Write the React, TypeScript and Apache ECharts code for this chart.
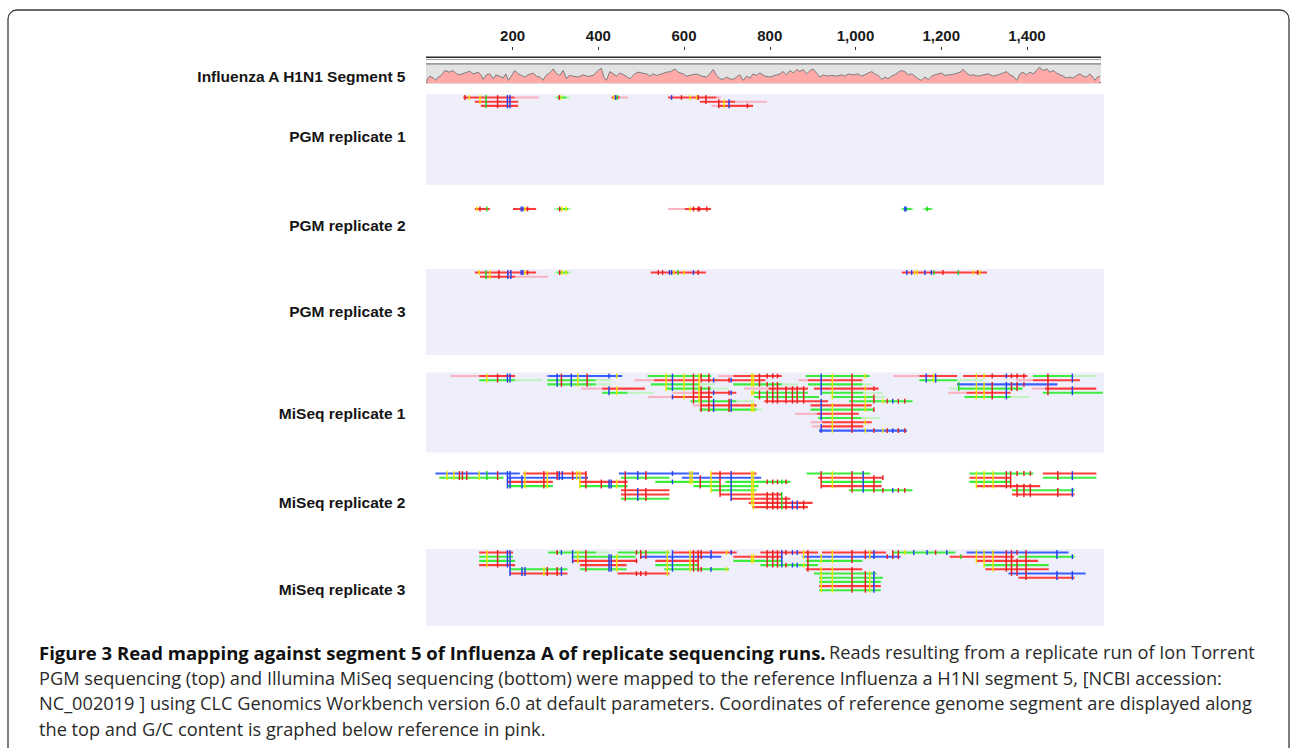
import React, { useEffect, useRef } from "react";
import * as echarts from "echarts";

// ---------- data ----------
const tickValues = [200, 400, 600, 800, 1000, 1200, 1400];
const referenceName = "Influenza A H1N1 Segment 5";
const trackNames = [
  "PGM replicate 1",
  "PGM replicate 2",
  "PGM replicate 3",
  "MiSeq replicate 1",
  "MiSeq replicate 2",
  "MiSeq replicate 3",
];

// G/C content profile: [position, G/C %]
const gcProfile: [number, number][] = [
  [0, 8], [1, 22], [7, 36], [15, 26], [21, 14], [26, 31], [34, 40], [42, 66], [52, 57], [61, 66],
  [69, 48], [77, 43], [89, 53], [100, 62], [108, 48], [120, 57], [128, 36], [131, 19], [139, 43], [147, 48],
  [155, 22], [161, 43], [170, 36], [178, 26], [184, 48], [190, 14], [198, 40], [205, 66], [213, 48], [221, 40],
  [229, 31], [236, 43], [248, 52], [256, 36], [264, 31], [271, 14], [278, 40], [287, 53], [295, 74], [303, 48],
  [310, 40], [318, 66], [326, 22], [332, 40], [341, 36], [353, 31], [365, 43], [376, 34], [388, 40], [400, 66],
  [407, 78], [413, 31], [419, 14], [427, 60], [435, 48], [443, 36], [450, 53], [462, 40], [474, 22], [485, 48],
  [493, 57], [501, 53], [513, 48], [520, 36], [528, 48], [536, 40], [548, 48], [559, 57], [569, 60], [579, 74],
  [586, 57], [598, 48], [606, 36], [618, 43], [629, 48], [641, 36], [653, 31], [660, 48], [668, 71], [676, 40],
  [684, 22], [691, 19], [699, 31], [707, 22], [715, 19], [722, 31], [730, 43], [738, 14], [746, 36], [754, 26],
  [761, 48], [769, 40], [777, 53], [789, 36], [800, 31], [812, 40], [824, 48], [831, 60], [839, 43], [847, 66],
  [855, 53], [863, 71], [870, 60], [878, 71], [886, 48], [894, 66], [901, 74], [909, 53], [917, 31], [925, 43],
  [933, 36], [944, 40], [956, 36], [968, 43], [975, 36], [983, 48], [995, 43], [1006, 48], [1014, 36], [1022, 43],
  [1030, 53], [1038, 60], [1045, 48], [1053, 40], [1061, 19], [1069, 31], [1076, 22], [1084, 36], [1092, 43], [1100, 57],
  [1108, 66], [1115, 60], [1123, 43], [1131, 48], [1139, 36], [1146, 22], [1154, 14], [1162, 31], [1170, 19], [1178, 36],
  [1185, 43], [1193, 48], [1201, 53], [1209, 40], [1220, 43], [1232, 48], [1244, 57], [1251, 71], [1259, 53], [1267, 40],
  [1275, 43], [1286, 36], [1298, 43], [1310, 48], [1321, 36], [1333, 43], [1345, 53], [1353, 60], [1360, 43], [1368, 36],
  [1376, 14], [1384, 48], [1391, 57], [1399, 43], [1407, 57], [1415, 48], [1422, 66], [1429, 83], [1438, 66], [1446, 74],
  [1454, 57], [1461, 66], [1469, 53], [1477, 43], [1485, 36], [1492, 26], [1500, 31], [1508, 26], [1516, 40], [1524, 48],
  [1531, 36], [1539, 31], [1547, 48], [1555, 26], [1559, 14], [1564, 31], [1570, 36],
];

// reads: [lightStart, start, end, lightEnd, row, colour]
type Read = [number, number, number, number, number, string];
type Site = [number, string];

const pgm1Reads: Read[] = [
  [85, 85, 205, 261, 0, "r"], [297, 303, 326, 335, 0, "g"], [431, 431, 450, 470, 0, "r"], [563, 563, 676, 686, 0, "r"],
  [112, 112, 213, 213, 1, "r"], [637, 637, 719, 794, 1, "r"],
  [126, 126, 213, 213, 2, "r"], [664, 680, 761, 761, 2, "r"],
];
const pgm1Sites: Site[] = [
  [89, "r"], [99, "y"], [124, "y"], [138, "g"], [165, "r"], [188, "b"], [194, "b"], [309, "r"], [314, "y"],
  [436, "y"], [440, "b"], [444, "g"], [571, "b"], [594, "r"], [614, "y"], [629, "y"], [633, "r"], [651, "r"],
  [681, "r"], [693, "y"], [705, "b"], [748, "r"],
];

const pgm2Reads: Read[] = [
  [112, 112, 147, 147, 0, "r"], [201, 201, 255, 255, 0, "r"], [297, 304, 330, 337, 0, "g"],
  [563, 602, 663, 663, 0, "r"], [1105, 1110, 1131, 1136, 0, "g"], [1156, 1162, 1177, 1182, 0, "g"],
];
const pgm2Sites: Site[] = [
  [117, "y"], [124, "r"], [140, "g"], [220, "b"], [224, "b"], [229, "y"], [235, "r"], [310, "r"], [316, "y"],
  [325, "y"], [614, "y"], [622, "r"], [633, "r"], [636, "r"], [653, "r"], [1115, "b"], [1118, "b"], [1167, "g"],
];

const pgm3Reads: Read[] = [
  [112, 112, 255, 255, 0, "r"], [297, 304, 330, 337, 0, "g"], [522, 522, 651, 651, 0, "r"], [1108, 1108, 1307, 1307, 0, "r"],
  [124, 124, 206, 283, 1, "r"],
];
const pgm3Sites: Site[] = [
  [122, "y"], [138, "g"], [147, "y"], [168, "r"], [189, "b"], [196, "b"], [220, "b"], [224, "b"], [229, "y"],
  [235, "r"], [310, "r"], [316, "y"], [325, "y"], [540, "r"], [550, "r"], [566, "b"], [571, "b"], [576, "y"],
  [586, "g"], [600, "y"], [622, "b"], [633, "r"], [1120, "b"], [1131, "b"], [1138, "y"], [1144, "y"], [1162, "b"],
  [1177, "b"], [1183, "g"], [1204, "r"], [1240, "g"], [1275, "y"], [1285, "r"], [1290, "y"],
];

const miseq1Reads: Read[] = [
  [55, 122, 206, 206, 0, "r"], [278, 283, 456, 456, 0, "b"], [515, 515, 663, 663, 0, "g"], [680, 715, 828, 828, 0, "r"],
  [884, 884, 1033, 1033, 0, "g"], [1088, 1149, 1237, 1237, 0, "r"], [1251, 1251, 1401, 1401, 0, "r"], [1414, 1414, 1506, 1564, 0, "g"],
  [122, 122, 206, 270, 1, "g"], [281, 281, 394, 430, 1, "g"], [484, 530, 635, 635, 1, "r"], [640, 640, 790, 790, 1, "r"],
  [867, 889, 1016, 1016, 1, "r"], [1149, 1149, 1237, 1298, 1, "g"], [1374, 1414, 1524, 1524, 1, "r"],
  [281, 281, 394, 430, 2, "g"], [523, 523, 635, 672, 2, "g"], [715, 715, 828, 866, 2, "g"], [889, 889, 1016, 1038, 2, "g"],
  [1237, 1237, 1471, 1471, 2, "b"],
  [360, 409, 509, 509, 3, "r"], [558, 558, 663, 705, 3, "g"], [740, 797, 889, 889, 3, "r"], [903, 903, 1054, 1054, 3, "r"],
  [1218, 1241, 1390, 1390, 3, "g"], [1411, 1442, 1562, 1562, 3, "r"],
  [409, 409, 468, 530, 4, "g"], [573, 622, 722, 722, 4, "r"], [758, 758, 889, 889, 4, "g"], [920, 920, 1018, 1064, 4, "g"],
  [1216, 1259, 1362, 1362, 4, "r"], [1437, 1437, 1577, 1577, 4, "g"],
  [515, 573, 666, 666, 5, "r"], [763, 763, 915, 915, 5, "g"], [946, 946, 1043, 1070, 5, "g"], [1254, 1254, 1362, 1405, 5, "g"],
  [615, 615, 722, 763, 6, "g"], [787, 787, 936, 936, 6, "r"], [985, 985, 1133, 1133, 6, "g"],
  [620, 638, 769, 769, 7, "r"], [895, 895, 1038, 1038, 7, "r"],
  [636, 636, 769, 784, 8, "g"], [895, 895, 1043, 1043, 8, "g"],
  [859, 910, 1008, 1008, 9, "r"],
  [913, 913, 1013, 1059, 10, "g"],
  [895, 922, 1038, 1038, 11, "r"],
  [898, 920, 1018, 1018, 12, "r"],
  [915, 915, 1120, 1120, 13, "b"],
];
const miseq1Sites: Site[] = [
  [140, "y"], [165, "r"], [188, "b"], [194, "b"], [304, "b"], [314, "r"], [337, "b"], [352, "y"], [374, "r"],
  [425, "b"], [443, "y"], [558, "y"], [573, "b"], [600, "y"], [622, "r"], [635, "y"], [640, "r"], [658, "r"],
  [669, "b"], [705, "r"], [710, "b"], [758, "y"], [762, "y"], [776, "r"], [794, "r"], [807, "r"], [818, "r"],
  [838, "r"], [853, "r"], [864, "r"], [879, "r"], [920, "b"], [946, "y"], [992, "r"], [1023, "y"], [1043, "r"],
  [1064, "y"], [1074, "r"], [1087, "b"], [1100, "r"], [1115, "r"], [1165, "b"], [1182, "y"], [1187, "b"],
  [1241, "g"], [1282, "y"], [1300, "y"], [1319, "r"], [1352, "b"], [1364, "r"], [1377, "r"], [1393, "r"],
  [1449, "r"], [1506, "b"],
];

const miseq2Reads: Read[] = [
  [20, 20, 217, 217, 0, "b"], [225, 225, 373, 373, 0, "r"], [448, 448, 635, 635, 0, "b"], [663, 663, 769, 769, 0, "r"],
  [886, 886, 1035, 1035, 0, "g"], [1266, 1266, 1415, 1415, 0, "g"], [1437, 1437, 1562, 1562, 0, "r"],
  [29, 29, 179, 179, 1, "g"], [188, 188, 376, 376, 1, "b"], [453, 453, 566, 566, 1, "g"], [595, 595, 780, 780, 1, "b"],
  [913, 913, 1064, 1064, 1, "r"], [1266, 1266, 1362, 1362, 1, "r"], [1437, 1437, 1562, 1562, 1, "g"],
  [188, 188, 294, 294, 2, "r"], [355, 355, 468, 468, 2, "r"], [533, 533, 684, 684, 2, "g"], [697, 697, 848, 848, 2, "g"],
  [920, 920, 1061, 1061, 2, "g"], [1266, 1266, 1362, 1362, 2, "g"],
  [188, 188, 294, 294, 3, "g"], [355, 355, 468, 468, 3, "g"], [622, 622, 774, 774, 3, "g"], [920, 920, 1061, 1061, 3, "r"],
  [1282, 1282, 1431, 1431, 3, "r"],
  [453, 453, 566, 566, 4, "r"], [663, 663, 769, 769, 4, "g"], [985, 985, 1133, 1133, 4, "g"], [1365, 1365, 1511, 1511, 4, "g"],
  [453, 453, 566, 566, 5, "r"], [684, 684, 828, 828, 5, "r"], [1365, 1365, 1511, 1511, 5, "r"],
  [453, 453, 566, 566, 6, "g"], [708, 708, 848, 848, 6, "r"],
  [751, 751, 900, 900, 7, "r"],
  [759, 759, 889, 889, 8, "r"],
];
const miseq2Sites: Site[] = [
  [47, "y"], [63, "y"], [76, "r"], [83, "r"], [93, "r"], [122, "y"], [140, "g"], [165, "r"], [188, "b"], [194, "b"],
  [222, "b"], [229, "y"], [273, "r"], [281, "y"], [304, "r"], [309, "b"], [316, "b"], [340, "r"], [350, "y"],
  [357, "y"], [371, "r"], [407, "r"], [425, "b"], [430, "b"], [443, "y"], [463, "r"], [492, "b"], [511, "r"],
  [573, "b"], [614, "y"], [619, "y"], [638, "r"], [663, "y"], [684, "r"], [710, "b"], [758, "y"], [762, "y"],
  [794, "r"], [807, "r"], [818, "r"], [828, "g"], [838, "r"], [853, "b"], [864, "b"], [879, "r"], [920, "r"],
  [946, "y"], [992, "r"], [1018, "b"], [1043, "r"], [1064, "r"], [1087, "b"], [1100, "r"], [1115, "r"],
  [1282, "y"], [1300, "y"], [1321, "y"], [1352, "r"], [1362, "r"], [1377, "r"], [1393, "r"], [1408, "r"],
  [1472, "r"], [1506, "b"],
];

const miseq3Reads: Read[] = [
  [122, 122, 201, 201, 0, "r"], [283, 283, 394, 427, 0, "g"], [445, 445, 566, 566, 0, "g"], [573, 573, 723, 723, 0, "r"],
  [778, 778, 913, 913, 0, "r"], [922, 922, 1071, 1071, 0, "r"], [1087, 1087, 1233, 1233, 0, "g"], [1259, 1259, 1497, 1497, 0, "b"],
  [122, 122, 201, 201, 1, "g"], [338, 338, 487, 487, 1, "g"], [499, 499, 687, 687, 1, "b"], [715, 715, 830, 830, 1, "r"],
  [876, 876, 1105, 1105, 1, "b"], [1220, 1220, 1370, 1370, 1, "r"], [1380, 1380, 1511, 1511, 1, "g"],
  [122, 122, 206, 206, 2, "g"], [340, 340, 491, 491, 2, "r"], [533, 533, 635, 635, 2, "r"], [715, 715, 830, 830, 2, "g"],
  [884, 884, 1016, 1016, 2, "g"], [1282, 1282, 1426, 1426, 2, "r"],
  [122, 122, 206, 206, 3, "r"], [357, 357, 466, 466, 3, "r"], [533, 533, 635, 635, 3, "g"], [778, 778, 913, 913, 3, "g"],
  [1300, 1300, 1451, 1451, 3, "g"],
  [193, 193, 328, 328, 4, "g"], [357, 357, 466, 466, 4, "g"], [554, 554, 705, 705, 4, "g"], [884, 884, 1016, 1016, 4, "r"],
  [1303, 1303, 1451, 1451, 4, "r"],
  [193, 193, 328, 328, 5, "r"], [445, 445, 566, 566, 5, "r"], [903, 903, 1049, 1049, 5, "g"], [1357, 1357, 1537, 1537, 5, "b"],
  [915, 915, 1064, 1064, 6, "g"], [1380, 1380, 1511, 1511, 6, "r"],
  [915, 915, 1059, 1059, 7, "g"],
  [915, 915, 1059, 1059, 8, "r"],
  [915, 915, 1059, 1059, 9, "g"],
];
const miseq3Sites: Site[] = [
  [140, "y"], [165, "r"], [188, "b"], [194, "b"], [222, "b"], [229, "b"], [273, "y"], [281, "r"], [304, "r"],
  [314, "b"], [340, "b"], [352, "y"], [371, "r"], [425, "b"], [430, "b"], [443, "y"], [489, "r"], [499, "r"],
  [511, "r"], [561, "y"], [573, "b"], [614, "y"], [622, "r"], [633, "r"], [640, "r"], [663, "b"], [699, "y"],
  [710, "b"], [758, "y"], [762, "y"], [794, "r"], [807, "r"], [818, "r"], [828, "b"], [838, "r"], [853, "b"],
  [864, "b"], [879, "y"], [889, "r"], [920, "y"], [946, "y"], [992, "r"], [1023, "r"], [1033, "y"], [1043, "b"],
  [1074, "r"], [1087, "r"], [1100, "r"], [1115, "y"], [1136, "b"], [1167, "b"], [1187, "r"], [1213, "b"],
  [1246, "g"], [1282, "y"], [1300, "y"], [1321, "y"], [1352, "r"], [1364, "r"], [1377, "r"], [1398, "r"],
  [1470, "b"], [1506, "b"],
];

const trackReads = [pgm1Reads, pgm2Reads, pgm3Reads, miseq1Reads, miseq2Reads, miseq3Reads];
const trackSites = [pgm1Sites, pgm2Sites, pgm3Sites, miseq1Sites, miseq2Sites, miseq3Sites];

const captionBold = "Figure 3 Read mapping against segment 5 of Influenza A of replicate sequencing runs.";
const captionLines = [
  "Reads resulting from a replicate run of Ion Torrent",
  "PGM sequencing (top) and Illumina MiSeq sequencing (bottom) were mapped to the reference Influenza a H1NI segment 5, [NCBI accession:",
  "NC_002019 ] using CLC Genomics Workbench version 6.0 at default parameters. Coordinates of reference genome segment are displayed along",
  "the top and G/C content is graphed below reference in pink.",
];

// ---------- layout & styles ----------
const PX_PER_BP = 0.42862;
const PLOT_LEFT = 426;
const X_MIN = -2;
const ROW_PX = 4.2;
const TRACK_LAYOUT = [
  { top: 94, height: 91, bg: true, labelY: 136 },
  { top: 205.5, height: 50, bg: false, labelY: 225 },
  { top: 269, height: 86, bg: true, labelY: 311 },
  { top: 372.5, height: 80, bg: true, labelY: 413 },
  { top: 470, height: 65, bg: false, labelY: 502 },
  { top: 549, height: 77, bg: true, labelY: 589 },
];
const TRACK_WIDTH = 678;
const GC_TOP = 64;
const GC_HEIGHT = 19;
const GC_WIDTH = 675;
const LAVENDER = "#efeffc";
const READ_SOLID: Record<string, string> = { r: "#ff3c3c", g: "#3cec3c", b: "#3c5fff" };
const READ_LIGHT: Record<string, string> = { r: "#f7b3c0", g: "#c2f2c2", b: "#b9c2fa" };
const MARK: Record<string, string> = { r: "#e81c1c", g: "#1fd41f", b: "#2140f0", y: "#f4e400" };
const COLOR_CODES = ["r", "g", "b"];
const LABEL_FONT = '"Liberation Sans", Arial, Helvetica, sans-serif';
const CAPTION_FONT = '"Open Sans", "Noto Sans", sans-serif';
const CAPTION_X = 39;
const CAPTION_Y = [652, 677.5, 703, 728.5];

export default function App() {
  const ref = useRef<HTMLDivElement>(null);

  useEffect(() => {
    if (!ref.current) return;
    const chart = echarts.init(ref.current, null, { renderer: "svg" });

    const grids: any[] = [];
    const xAxes: any[] = [];
    const yAxes: any[] = [];
    const series: any[] = [];

    // ruler (grid 0)
    const trackMax = X_MIN + TRACK_WIDTH / PX_PER_BP;
    grids.push({ left: PLOT_LEFT, width: TRACK_WIDTH, top: 49, height: 1, show: false });
    xAxes.push({
      gridIndex: 0,
      type: "value",
      position: "top",
      min: X_MIN,
      max: trackMax,
      axisLine: { show: false },
      splitLine: { show: false },
      axisTick: { show: true, length: 3, lineStyle: { color: "#333", width: 1 }, customValues: tickValues },
      axisLabel: {
        customValues: tickValues,
        formatter: (v: number) => v.toLocaleString("en-US"),
        fontSize: 15,
        fontWeight: "bold",
        fontFamily: LABEL_FONT,
        color: "#1a1a1a",
        margin: 6,
      },
    });
    yAxes.push({ gridIndex: 0, type: "value", show: false, min: 0, max: 1 });

    // GC track (grid 1)
    grids.push({
      left: PLOT_LEFT,
      width: GC_WIDTH,
      top: GC_TOP,
      height: GC_HEIGHT,
      show: true,
      backgroundColor: "#e2e2e2",
      borderWidth: 0,
    });
    xAxes.push({ gridIndex: 1, type: "value", min: X_MIN, max: X_MIN + GC_WIDTH / PX_PER_BP, show: false });
    yAxes.push({ gridIndex: 1, type: "value", min: 0, max: 100, show: false });
    series.push({
      type: "line",
      xAxisIndex: 1,
      yAxisIndex: 1,
      data: gcProfile,
      symbol: "none",
      lineStyle: { color: "#7c7c7c", width: 1 },
      areaStyle: { color: "#ffa9a9", opacity: 1 },
      silent: true,
    });

    // read tracks (grids 2..7)
    TRACK_LAYOUT.forEach((lay, i) => {
      const gi = i + 2;
      grids.push({
        left: PLOT_LEFT,
        width: TRACK_WIDTH,
        top: lay.top,
        height: lay.height,
        show: lay.bg,
        backgroundColor: LAVENDER,
        borderWidth: 0,
      });
      xAxes.push({ gridIndex: gi, type: "value", min: X_MIN, max: trackMax, show: false });
      const yMin = -3.5 / ROW_PX;
      yAxes.push({ gridIndex: gi, type: "value", inverse: true, min: yMin, max: yMin + lay.height / ROW_PX, show: false });
      const sites = trackSites[i];
      series.push({
        type: "custom",
        xAxisIndex: gi,
        yAxisIndex: gi,
        clip: false,
        silent: true,
        encode: { x: [0, 3], y: 4 },
        data: trackReads[i].map(([ls, s, e, le, row, c]) => [ls, s, e, le, row, COLOR_CODES.indexOf(c)]),
        renderItem: (_params: any, api: any) => {
          const ls = api.value(0);
          const s = api.value(1);
          const e = api.value(2);
          const le = api.value(3);
          const row = api.value(4);
          const code = COLOR_CODES[api.value(5)];
          const pLs = api.coord([ls, row]);
          const pS = api.coord([s, row]);
          const pE = api.coord([e, row]);
          const pLe = api.coord([le, row]);
          const y = pS[1];
          const children: any[] = [];
          const lw = 2.1;
          if (ls < s) {
            children.push({ type: "line", shape: { x1: pLs[0], y1: y, x2: pS[0], y2: y }, style: { stroke: READ_LIGHT[code], lineWidth: lw } });
          }
          if (le > e) {
            children.push({ type: "line", shape: { x1: pE[0], y1: y, x2: pLe[0], y2: y }, style: { stroke: READ_LIGHT[code], lineWidth: lw } });
          }
          children.push({ type: "line", shape: { x1: pS[0], y1: y, x2: pE[0], y2: y }, style: { stroke: READ_SOLID[code], lineWidth: lw } });
          sites.forEach(([pos, mc]) => {
            if (pos >= s && pos <= e) {
              const px = api.coord([pos, row])[0];
              children.push({
                type: "line",
                shape: { x1: px, y1: y - 2.4, x2: px, y2: y + 2.4 },
                style: { stroke: MARK[mc], lineWidth: 1.4 },
              });
            }
          });
          return { type: "group", children };
        },
      });
    });

    const gcRight = PLOT_LEFT + GC_WIDTH;
    const labelStyle = {
      x: 405.5,
      align: "right",
      verticalAlign: "middle",
      textAlign: "right",
      textVerticalAlign: "middle",
      fontSize: 15.5,
      fontWeight: "bold",
      fontFamily: LABEL_FONT,
      fill: "#151515",
    };
    const graphic: any[] = [
      // outer rounded frame
      {
        type: "rect",
        shape: { x: 8, y: 10, width: 1281, height: 780, r: 9 },
        style: { fill: "none", stroke: "#3a3a3a", lineWidth: 1.3 },
        silent: true,
      },
      // reference sequence double line
      { type: "line", shape: { x1: PLOT_LEFT, y1: 57.3, x2: gcRight, y2: 57.3 }, style: { stroke: "#2a2a2a", lineWidth: 1.4 } },
      { type: "line", shape: { x1: PLOT_LEFT, y1: 59.6, x2: gcRight, y2: 59.6 }, style: { stroke: "#9a9a9a", lineWidth: 1 } },
      // GC box borders
      { type: "line", shape: { x1: PLOT_LEFT, y1: 63.8, x2: gcRight, y2: 63.8 }, style: { stroke: "#9c9c9c", lineWidth: 1.8 } },
      { type: "line", shape: { x1: PLOT_LEFT, y1: 82.6, x2: gcRight, y2: 82.6 }, style: { stroke: "#6a6a6a", lineWidth: 1.2 } },
      // reference label
      { type: "text", style: { ...labelStyle, text: referenceName, y: 76.5 } },
      ...trackNames.map((name, i) => ({
        type: "text",
        style: { ...labelStyle, text: name, y: TRACK_LAYOUT[i].labelY },
      })),
      // caption
      {
        type: "text",
        style: {
          text: `{b|${captionBold}} {n|${captionLines[0]}}`,
          x: CAPTION_X,
          y: CAPTION_Y[0],
          verticalAlign: "middle",
          textVerticalAlign: "middle",
          rich: {
            b: { fontSize: 18.5, fontWeight: "bold", fontFamily: CAPTION_FONT, fill: "#111", color: "#111" },
            n: { fontSize: 18.2, fontFamily: CAPTION_FONT, fill: "#2a2a2a", color: "#2a2a2a" },
          },
        },
      },
      ...captionLines.slice(1).map((line, i) => ({
        type: "text",
        style: {
          text: line,
          x: CAPTION_X,
          y: CAPTION_Y[i + 1],
          verticalAlign: "middle",
          textVerticalAlign: "middle",
          fontSize: 18.2,
          fontFamily: CAPTION_FONT,
          fill: "#2a2a2a",
        },
      })),
    ];

    chart.setOption({
      animation: false,
      backgroundColor: "#ffffff",
      grid: grids,
      xAxis: xAxes,
      yAxis: yAxes,
      series,
      graphic,
    });

    return () => chart.dispose();
  }, []);

  return (
    <div
      ref={ref}
      style={{ position: "fixed", left: 0, top: 0, width: 1290, height: 748, background: "#fff" }}
    />
  );
}
